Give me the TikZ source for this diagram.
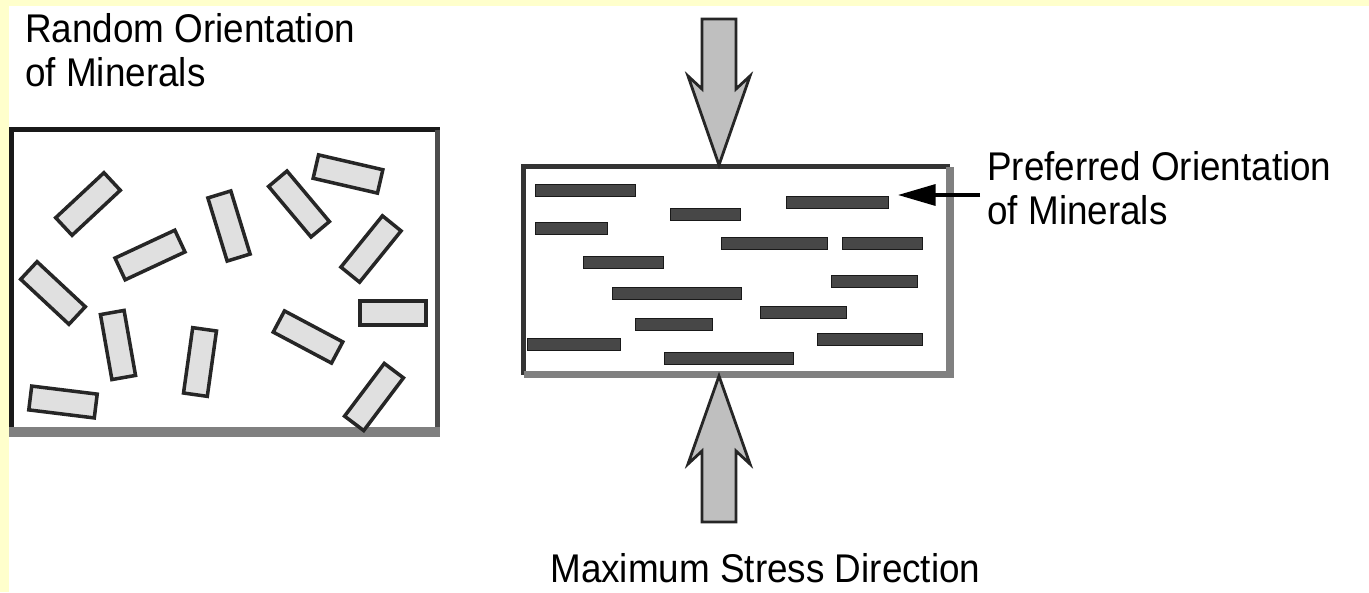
\documentclass[tikz,border=0pt]{standalone}
\usepackage{fontspec}
\setmainfont[FakeStretch=0.92]{Liberation Sans}
\usepackage{tikz}
\usetikzlibrary{arrows.meta}

\definecolor{bgyellow}{HTML}{FFFFCC}

\tikzset{
  mineral/.style={draw=black!85, fill=black!12, line width=2pt,
    minimum width=1.32cm, minimum height=0.48cm, inner sep=0pt},
  grain/.style={draw=black!90, fill=black!72, line width=0.5pt},
  stressarrow/.style={draw=black!85, fill=black!25, line width=1.6pt, line join=miter},
  label/.style={font=\fontsize{22.8pt}{25pt}\selectfont, inner sep=0pt}
}

\begin{document}
\begin{tikzpicture}[x=0.02cm, y=-0.02cm]
    \useasboundingbox (0,0) rectangle (1369,592);
    % Background
    \fill[bgyellow] (0,0) rectangle (1369,592);
    \fill[white] (9,6) rectangle (1369,592);

    % Left box: random orientation
    \draw[line width=3pt, black!90] (11.5,129.5) rectangle (437.5,431);
    \draw[line width=3pt, black!70] (437.5,129.5) -- (437.5,431);
    \draw[line width=5.5pt, black!50] (9,432) -- (440,432);
    \foreach \cx/\cy/\ang [count=\i] in {88/204/43, 150/255/25, 229/226/-73, 299/204/-50,
        348/174/-13, 371/249/51, 53/293/-43, 118/345/-80, 200/362/82, 63/402/-7,
        308/337/-28, 393/313/0, 374/397/53}
      \node[mineral, rotate=\ang] (m\i) at (\cx,\cy) {};

    % Right box: preferred orientation
    \fill[white] (523.5,166.5) rectangle (950,374.5);
    \draw[line width=2.3pt, black!80] (950,166.5) -- (523.5,166.5) -- (523.5,374.5);
    \draw[line width=4pt, black!50] (523.5,374.5) -- (950,374.5) -- (950,166.5);
    \foreach \xa/\xb/\yc in {535/635/190, 670/740/214, 535/607/228, 786/888/202,
        721/827/243, 842/922/243, 583/663/262, 831/917/281, 612/741/293,
        760/846/312, 635/712/324, 527/620/344, 817/922/339, 664/793/358}
      \draw[grain] (\xa,\yc-6) rectangle (\xb,\yc+6);

    % Stress arrows
    \draw[stressarrow] (702,19) -- (736,19) -- (736,89) -- (750,76) -- (719,165)
        -- (688,76) -- (702,89) -- cycle;
    \draw[stressarrow] (702,522) -- (736,522) -- (736,451) -- (750,464) -- (719,376)
        -- (688,464) -- (702,451) -- cycle;

    % Labels
    \node[label, align=left, anchor=north west] (randomlabel) at (25,13)
        {Random Orientation\\of Minerals};
    \node[label, align=left, anchor=north west] (preflabel) at (987,151)
        {Preferred Orientation\\of Minerals};
    \node[label, anchor=base west] (stresslabel) at (550,582) {Maximum Stress Direction};

    \coordinate (prefstart) at (980,195);
    \coordinate (preftip) at (898,195);
    \draw[-{Triangle[length=0.75cm,width=0.42cm]}, line width=1.8pt] (prefstart) -- (preftip);
\end{tikzpicture}
\end{document}
